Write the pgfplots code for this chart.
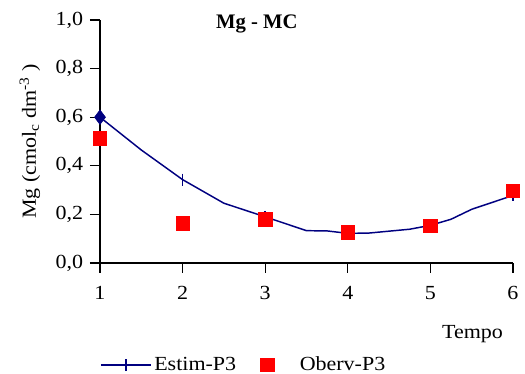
\documentclass[border=0pt]{standalone}
\usepackage{fontspec}
\setmainfont{Liberation Serif}[FakeStretch=1.1]
\newfontfamily\titlefont{Liberation Serif}
\usepackage{pgfplots}
\pgfplotsset{compat=1.18}

\definecolor{estim}{RGB}{0,0,128}
\definecolor{obs}{RGB}{255,0,0}

\newcommand\fs{\fontsize{15}{18}\selectfont}

\begin{document}
\fs
\begin{tikzpicture}[font=\fs]
\path[use as bounding box] (0,0) rectangle (393.75pt,280.5pt);
\begin{axis}[
  at={(75pt,83.25pt)}, anchor=south west,
  scale only axis, width=309.75pt, height=182.25pt,
  xmin=1, xmax=6, ymin=0, ymax=1,
  axis x line=bottom, axis y line=left,
  axis line style={-, line width=1pt, black},
  every tick/.style={black, line width=1pt},
  tick align=outside, major tick length=7.5pt,
  xtick={1,2,3,4,5,6},
  ytick={0,0.2,0.4,0.6,0.8,1.0},
  /pgf/number format/assume math mode=true,
  yticklabel style={/pgf/number format/.cd, fixed, fixed zerofill, precision=1, use comma},
  xticklabel style={yshift=-5pt},
  clip=false,
  ylabel={Mg (cmol\textsubscript{c} dm\textsuperscript{-3} )},
  ylabel style={at={(axis description cs:-0.1695,0.5)}, anchor=center},
  xlabel={Tempo},
  xlabel style={at={(axis description cs:0.902,-0.31)}, anchor=base},
  title={Mg - MC},
  title style={at={(axis description cs:0.38,0.934)}, anchor=base, font=\titlefont\fontsize{15.5}{18}\selectfont\bfseries},
  legend style={draw=none, fill=none, at={(axis description cs:-0.01,-0.42)}, anchor=west,
    /tikz/every even column/.append style={column sep=16pt}},
  legend columns=2,
  legend cell align=left,
]
% estimated curve
\addplot[estim, line width=1.1pt, forget plot] coordinates {
  (1,0.600) (1.5,0.465) (2,0.343) (2.5,0.246) (3,0.190) (3.5,0.133)
  (3.75,0.132) (4,0.122) (4.25,0.123) (4.75,0.139) (5,0.155)
  (5.25,0.180) (5.5,0.221) (6,0.278)
};
\addplot[estim, forget plot, only marks, mark=diamond*, mark size=5.5pt] coordinates {(1,0.600)};
\addplot[estim, only marks, mark=|, mark size=4.5pt, mark options={line width=1.1pt},
  legend image code/.code={
    \draw[estim, line width=1.1pt] (0pt,0pt) -- (37.5pt,0pt);
    \draw[estim, line width=1.1pt] (18.75pt,-4.5pt) -- (18.75pt,4.5pt);
  }] coordinates {(2,0.343) (3,0.190) (4,0.122) (5,0.155) (6,0.278)};
\addlegendentry{Estim-P3}
% observed values
\addplot[only marks, mark=square*, mark size=5pt, mark options={draw=obs, fill=obs},
  legend image code/.code={
    \path[draw=none, fill=none] (0pt,-0.1pt) rectangle (27.5pt,0.1pt);
    \fill[obs] (0pt,-5pt) rectangle (10pt,5pt);
  }] coordinates {(1,0.513) (2,0.163) (3,0.180) (4,0.126) (5,0.153) (6,0.296)};
\addlegendentry{Oberv-P3}
\end{axis}
\end{tikzpicture}
\end{document}
